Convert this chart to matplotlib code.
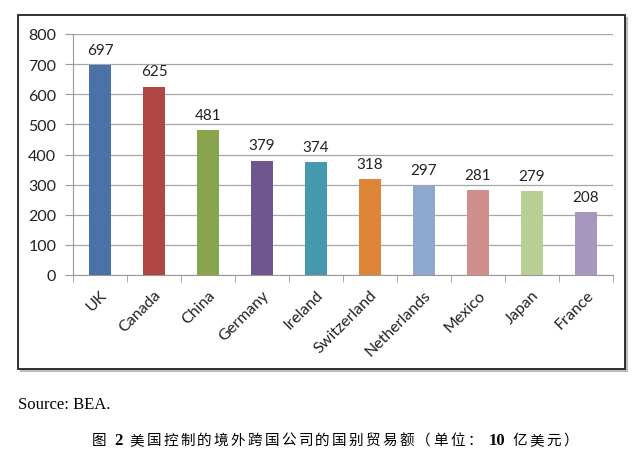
import matplotlib
matplotlib.use("Agg")
import matplotlib.pyplot as plt
from matplotlib.patches import Rectangle

# ---------- data ----------
countries = ['UK', 'Canada', 'China', 'Germany', 'Ireland', 'Switzerland',
             'Netherlands', 'Mexico', 'Japan', 'France']
values = [697, 625, 481, 379, 374, 318, 297, 281, 279, 208]
colors = ['#4A71A8', '#AE4744', '#88A54E', '#6E578F', '#4598AE', '#DF8537',
          '#8EA8D0', '#D08E8C', '#B8CF93', '#A697BF']
yticks = [0, 100, 200, 300, 400, 500, 600, 700, 800]

caption_tokens = ['图', '2', '美', '国', '控', '制', '的', '境', '外', '跨', '国',
                  '公', '司', '的', '国', '别', '贸', '易', '额', '（', '单', '位',
                  '：', '10', '亿', '美', '元', '）']

plt.rcParams['font.family'] = ['Lato', 'DejaVu Sans']

fig = plt.figure(figsize=(6.4, 4.6), dpi=100)
fig.patch.set_facecolor('white')

# chart frame with shadow
shadow = Rectangle((20 / 640, 1 - 373 / 460), 608 / 640, 355 / 460,
                   transform=fig.transFigure, facecolor='#BBBBBB',
                   edgecolor='none', zorder=0)
frame = Rectangle((18 / 640, 1 - 370 / 460), 607 / 640, 354 / 460,
                  transform=fig.transFigure, facecolor='white',
                  edgecolor='#222222', linewidth=1.3, zorder=1)
fig.patches.extend([shadow, frame])

ax = fig.add_axes([73 / 640, 1 - 276 / 460, 540 / 640, 241 / 460])
ax.set_facecolor('none')
ax.set_zorder(2)

x = range(len(countries))
ax.bar(x, values, width=0.42, color=colors, zorder=3)
for i, v in enumerate(values):
    ax.text(i, v + 28, str(v), ha='center', va='bottom', fontsize=11,
            color='#222222', zorder=4)

ax.set_xlim(-0.5, len(countries) - 0.5)
ax.set_ylim(0, 800)
ax.set_yticks(yticks)
ax.tick_params(axis='y', length=6, color='#999999', labelsize=11.5, pad=6,
               labelcolor='#222222')
ax.yaxis.grid(True, color='#A6A6A6', linewidth=0.9, zorder=0)
ax.set_axisbelow(True)

ax.set_xticks(list(x))
ax.set_xticklabels(countries, rotation=45, ha='right', rotation_mode='anchor',
                   fontsize=11.5, color='#222222')
ax.tick_params(axis='x', length=0, pad=9)
# category separator ticks
ax.set_xticks([i - 0.5 for i in range(len(countries) + 1)], minor=True)
ax.tick_params(axis='x', which='minor', length=5, color='#999999')

for s in ['top', 'right']:
    ax.spines[s].set_visible(False)
ax.spines['left'].set_color('#999999')
ax.spines['bottom'].set_color('#999999')

fig.text(18 / 640, 1 - 405 / 460, 'Source: BEA.', fontsize=12,
         family=['Liberation Serif'], va='center', ha='left')

# caption, laid out token by token with even spacing
renderer = fig.canvas.get_renderer()
cap_y = 1 - 441 / 460
texts = []
widths = []
pads = []
for tok in caption_tokens:
    if tok.isdigit():
        t = fig.text(0, cap_y, tok, fontsize=12, fontweight='bold',
                     family=['Liberation Serif'], va='center', ha='left')
        pads.append(5)
    else:
        t = fig.text(0, cap_y, tok, fontsize=10.5, family=['Noto Sans CJK SC'],
                     va='center', ha='left')
        pads.append(0)
    texts.append(t)
    widths.append(t.get_window_extent(renderer).width)
left_px, right_px = 92, 578
gap = (right_px - left_px - sum(widths) - 2 * sum(pads)) / (len(texts) - 1)
cur = left_px
for t, w, p in zip(texts, widths, pads):
    t.set_x((cur + p) / 640)
    cur += w + 2 * p + gap

fig.savefig('out.png', dpi=100)
